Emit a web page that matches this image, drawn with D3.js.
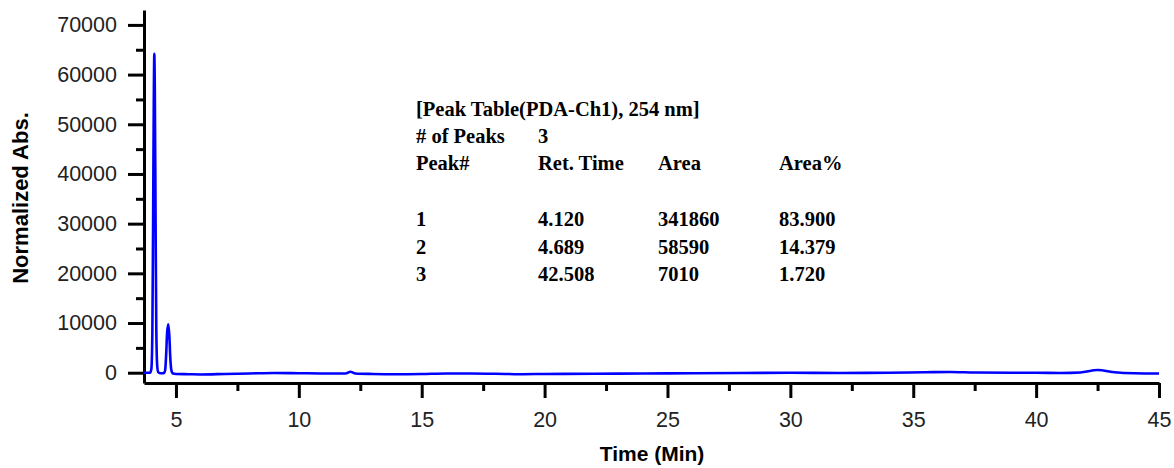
<!DOCTYPE html>
<html>
<head>
<meta charset="utf-8">
<script src="https://cdn.jsdelivr.net/npm/d3@7"></script>
<style>
  html, body { margin: 0; padding: 0; background: #fff; }
  svg { display: block; }
</style>
</head>
<body>
<svg id="chart" width="1174" height="468"></svg>
<script>
// Chromatogram trace (PDA-Ch1, 254 nm): retention time (min) and normalized absorbance
const time = [3.70, 3.95, 4.00, 4.04, 4.07, 4.10, 4.12, 4.14, 4.17, 4.20, 4.24, 4.28, 4.35,
  4.50, 4.56, 4.60, 4.64, 4.69, 4.73, 4.77, 4.81, 4.86, 5.0, 5.5, 6.0, 7.0, 8.0, 9.0, 10.0,
  11.0, 11.9, 12.1, 12.3, 13.0, 14.0, 15.0, 16.0, 17.0, 18.0, 19.0, 20.0, 22.0, 24.0, 26.0,
  28.0, 30.0, 32.0, 34.0, 35.5, 36.5, 37.5, 39.0, 40.0, 41.0, 41.8, 42.5, 43.2, 44.0, 45.0];
const absorbance = [0, 0, 800, 8000, 30000, 56000, 64200, 57000, 32000, 9000, 1200, 100, -100,
  -100, 500, 3500, 8000, 9750, 7500, 3000, 600, -100, -250, -300, -350, -250, -150, -50, -100,
  -150, -150, 200, -150, -250, -300, -250, -150, -150, -200, -300, -250, -200, -150, -100,
  -50, 0, -50, 0, 100, 150, 50, 0, 0, -50, 50, 550, 100, -100, -150];

// Axis ticks
const xTicks = [5, 10, 15, 20, 25, 30, 35, 40, 45];
const xMinorTicks = [7.5, 12.5, 17.5, 22.5, 27.5, 32.5, 37.5, 42.5];
const yTicks = [0, 10000, 20000, 30000, 40000, 50000, 60000, 70000];
const yMinorTicks = [5000, 15000, 25000, 35000, 45000, 55000, 65000];

// Peak table
const tableTitle = "[Peak Table(PDA-Ch1), 254 nm]";
const peakCountLabel = "# of Peaks";
const peakCount = "3";
const tableHeaders = ["Peak#", "Ret. Time", "Area", "Area%"];
const peakNo = ["1", "2", "3"];
const retTime = ["4.120", "4.689", "42.508"];
const peakArea = ["341860", "58590", "7010"];
const areaPct = ["83.900", "14.379", "1.720"];

const svg = d3.select("#chart");
const plotLeft = 144, plotRight = 1159, plotTop = 10, plotBottom = 383;

const x = d3.scaleLinear().domain([3.7, 45]).range([plotLeft, plotRight]);
const y = d3.scaleLinear().domain([-2070, 73000]).range([plotBottom, plotTop]);

const axisFont = "'Liberation Sans', Arial, sans-serif";

// Minor ticks (no labels)
svg.append("g")
  .attr("transform", `translate(0,${plotBottom})`)
  .call(d3.axisBottom(x).tickValues(xMinorTicks).tickSize(8).tickFormat(""))
  .call(g => g.select(".domain").remove())
  .call(g => g.selectAll("line").attr("stroke", "#000").attr("stroke-width", 3));

svg.append("g")
  .attr("transform", `translate(${plotLeft},0)`)
  .call(d3.axisLeft(y).tickValues(yMinorTicks).tickSize(8).tickFormat(""))
  .call(g => g.select(".domain").remove())
  .call(g => g.selectAll("line").attr("stroke", "#000").attr("stroke-width", 3));

// Major axes
const xAxis = svg.append("g")
  .attr("transform", `translate(0,${plotBottom})`)
  .call(d3.axisBottom(x).tickValues(xTicks).tickSize(15).tickSizeOuter(0).tickPadding(14).tickFormat(d3.format("d")));
const yAxis = svg.append("g")
  .attr("transform", `translate(${plotLeft},0)`)
  .call(d3.axisLeft(y).tickValues(yTicks).tickSize(16).tickSizeOuter(0).tickPadding(11).tickFormat(d3.format("d")));

[xAxis, yAxis].forEach(g => {
  g.select(".domain").attr("stroke", "#000").attr("stroke-width", 3);
  g.selectAll(".tick line").attr("stroke", "#000").attr("stroke-width", 3);
  g.selectAll(".tick text")
    .attr("fill", "#222")
    .style("font-family", axisFont)
    .style("font-size", "21.5px");
});

// Axis titles
svg.append("text")
  .attr("x", 652).attr("y", 461)
  .attr("text-anchor", "middle")
  .style("font-family", axisFont)
  .style("font-weight", "bold")
  .style("font-size", "21px")
  .text("Time (Min)");

svg.append("text")
  .attr("transform", "translate(28,198) rotate(-90)")
  .attr("text-anchor", "middle")
  .style("font-family", axisFont)
  .style("font-weight", "bold")
  .style("font-size", "22px")
  .text("Normalized Abs.");

// Trace
const pts = time.map((t, i) => [t, absorbance[i]]);
svg.append("path")
  .datum(pts)
  .attr("fill", "none")
  .attr("stroke", "#0000ff")
  .attr("stroke-width", 2.6)
  .attr("stroke-linejoin", "round")
  .attr("d", d3.line().x(d => x(d[0])).y(d => y(d[1])).curve(d3.curveMonotoneX));

// Peak table text
const tbl = svg.append("g")
  .style("font-family", "'Liberation Serif', 'Times New Roman', serif")
  .style("font-weight", "bold")
  .style("font-size", "20.5px")
  .attr("fill", "#000");
const colX = [416, 538, 658, 779];

tbl.append("text").attr("x", colX[0]).attr("y", 116).text(tableTitle);
tbl.append("text").attr("x", colX[0]).attr("y", 143).text(peakCountLabel);
tbl.append("text").attr("x", colX[1]).attr("y", 143).text(peakCount);
tableHeaders.forEach((h, j) => tbl.append("text").attr("x", colX[j]).attr("y", 170).text(h));

const rowY = [226, 254, 281];
peakNo.forEach((p, i) => {
  [p, retTime[i], peakArea[i], areaPct[i]].forEach((v, j) => {
    tbl.append("text").attr("x", colX[j]).attr("y", rowY[i]).text(v);
  });
});
</script>
</body>
</html>
